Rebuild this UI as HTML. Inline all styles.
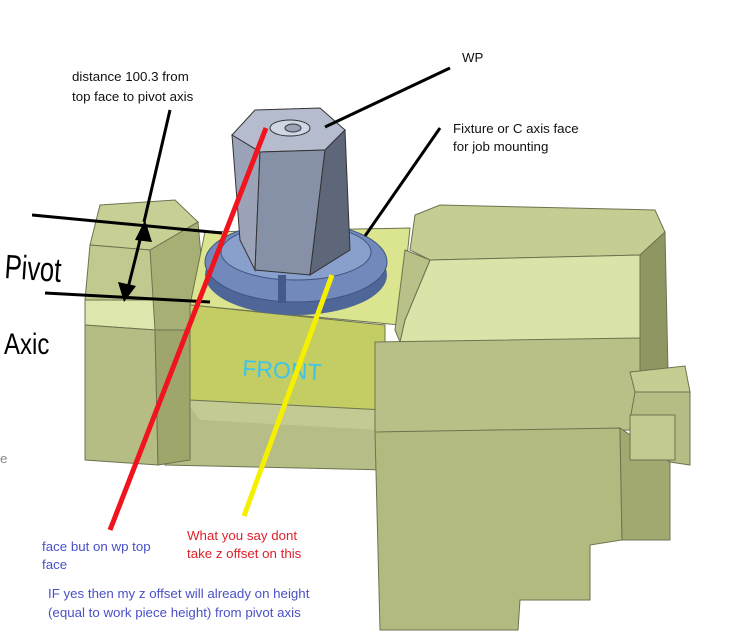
<!DOCTYPE html>
<html><head><meta charset="utf-8"><style>
body{margin:0;background:#fff;width:734px;height:632px;overflow:hidden}
svg{display:block}
text{font-family:"Liberation Sans",sans-serif;font-size:13.3px}
</style></head><body>
<svg width="734" height="632" viewBox="0 0 734 632" xmlns="http://www.w3.org/2000/svg">
<polygon points="155,395 385,408 385,470 165,465" fill="#b6bd86" stroke="#6d7350" stroke-width="1"/>
<polygon points="185,400 380,410 380,430 200,420" fill="#c3ca93"/>
<polygon points="100,205 175,200 198,222 150,250 90,245" fill="#c8cf95" stroke="#6d7350"/>
<polygon points="90,245 150,250 155,300 85,300" fill="#c2c98e" stroke="#6d7350"/>
<polygon points="85,300 155,300 155,330 85,325" fill="#dde6ad" stroke="#6d7350"/>
<polygon points="85,325 155,330 158,465 85,460" fill="#b6bd84" stroke="#6d7350"/>
<polygon points="150,250 198,222 205,300 190,330 155,330" fill="#a8af75" stroke="#6d7350"/>
<polygon points="155,330 190,330 190,460 158,465" fill="#9ea66c" stroke="#6d7350"/>
<polygon points="205,232 410,228 400,325 190,305" fill="#dbe48f" stroke="#6d7350"/>
<polygon points="190,305 385,325 385,410 190,400" fill="#c4cd64" stroke="#6d7350"/>
<text x="242" y="376" fill="#3fc4e8" style="font-size:23px" transform="rotate(3 242 376)">FRONT</text>
<polygon points="415,215 440,205 655,210 665,232 640,255 430,260 410,250" fill="#c6cd92" stroke="#6d7350"/>
<polygon points="430,260 640,255 640,340 400,342 405,320" fill="#dbe4a8" stroke="#6d7350"/>
<polygon points="405,250 430,260 405,320 400,342 395,330" fill="#b9c088" stroke="#6d7350"/>
<polygon points="640,255 665,232 668,372 640,378" fill="#8f9661" stroke="#6d7350"/>
<polygon points="375,342 640,338 640,430 375,432" fill="#b9c087" stroke="#6d7350"/>
<polygon points="375,432 620,428 622,540 590,545 590,600 520,600 518,630 380,630" fill="#b3ba80" stroke="#6d7350"/>
<polygon points="620,428 670,462 670,540 622,540" fill="#a2a970" stroke="#6d7350"/>
<polygon points="630,372 685,366 690,392 635,392" fill="#c6cd92" stroke="#6d7350"/>
<polygon points="635,392 690,392 690,465 670,462 630,420" fill="#b6bd84" stroke="#6d7350"/>
<polygon points="630,415 675,415 675,460 630,460" fill="#c3ca8f" stroke="#6d7350"/>
<ellipse cx="296" cy="275" rx="91" ry="40" fill="#4f6798"/>
<ellipse cx="296" cy="262" rx="91" ry="40" fill="#7189bb" stroke="#3e5280"/>
<ellipse cx="296" cy="252" rx="75" ry="28" fill="#8aa0cc" stroke="#3e5280"/>
<rect x="278" y="275" width="8" height="28" fill="#45598a"/>
<polygon points="232,135 255,110 320,108 345,130 325,150 260,152" fill="#b4bccd" stroke="#333"/>
<polygon points="232,135 260,152 255,270 240,240" fill="#9aa3b8" stroke="#333"/>
<polygon points="260,152 325,150 310,275 255,270" fill="#8690a6" stroke="#333"/>
<polygon points="325,150 345,130 350,250 310,275" fill="#5e667a" stroke="#333"/>
<ellipse cx="290" cy="128" rx="20" ry="8" fill="#cfd6e4" stroke="#333"/>
<ellipse cx="293" cy="128" rx="8" ry="4" fill="#9aa3b8" stroke="#333"/>
<g stroke="#000" stroke-width="3" fill="none">
<line x1="32" y1="215" x2="222" y2="233"/>
<line x1="45" y1="293" x2="210" y2="302"/>
<line x1="143" y1="228" x2="126" y2="296"/>
<line x1="170" y1="110" x2="144" y2="222"/>
<line x1="450" y1="68" x2="325" y2="127"/>
<line x1="440" y1="128" x2="365" y2="236"/>
</g>
<polygon points="145,220 135,240 152,242" fill="#000"/>
<polygon points="124,302 118,282 136,286" fill="#000"/>
<line x1="266" y1="128" x2="110" y2="530" stroke="#f0141e" stroke-width="5"/>
<line x1="332" y1="275" x2="244" y2="516" stroke="#f5f000" stroke-width="5"/>
<text x="4" y="278" style="font-size:34px" fill="#000" transform="rotate(4 4 278) scale(0.75 1) translate(1.3 0)">Pivot</text>
<text x="4" y="354" style="font-size:30px" fill="#000" transform="scale(0.8 1) translate(1 0)">Axic</text>
<text x="72" y="81" fill="#111">distance 100.3 from</text>
<text x="72" y="101" fill="#111">top face to pivot axis</text>
<text x="462" y="62" fill="#111">WP</text>
<text x="453" y="133" fill="#111">Fixture or C axis face</text>
<text x="453" y="151" fill="#111">for job mounting</text>
<text x="187" y="540" fill="#e0202a">What you say dont</text>
<text x="187" y="558" fill="#e0202a">take z offset on this</text>
<text x="42" y="551" fill="#4a50c8">face but on wp top</text>
<text x="42" y="569" fill="#4a50c8">face</text>
<text x="48" y="598" fill="#4a50c8">IF yes then my z offset will already on height</text>
<text x="48" y="617" fill="#4a50c8">(equal to work piece height) from pivot axis</text>
<text x="0" y="463" fill="#888">e</text>
</svg>
</body></html>
